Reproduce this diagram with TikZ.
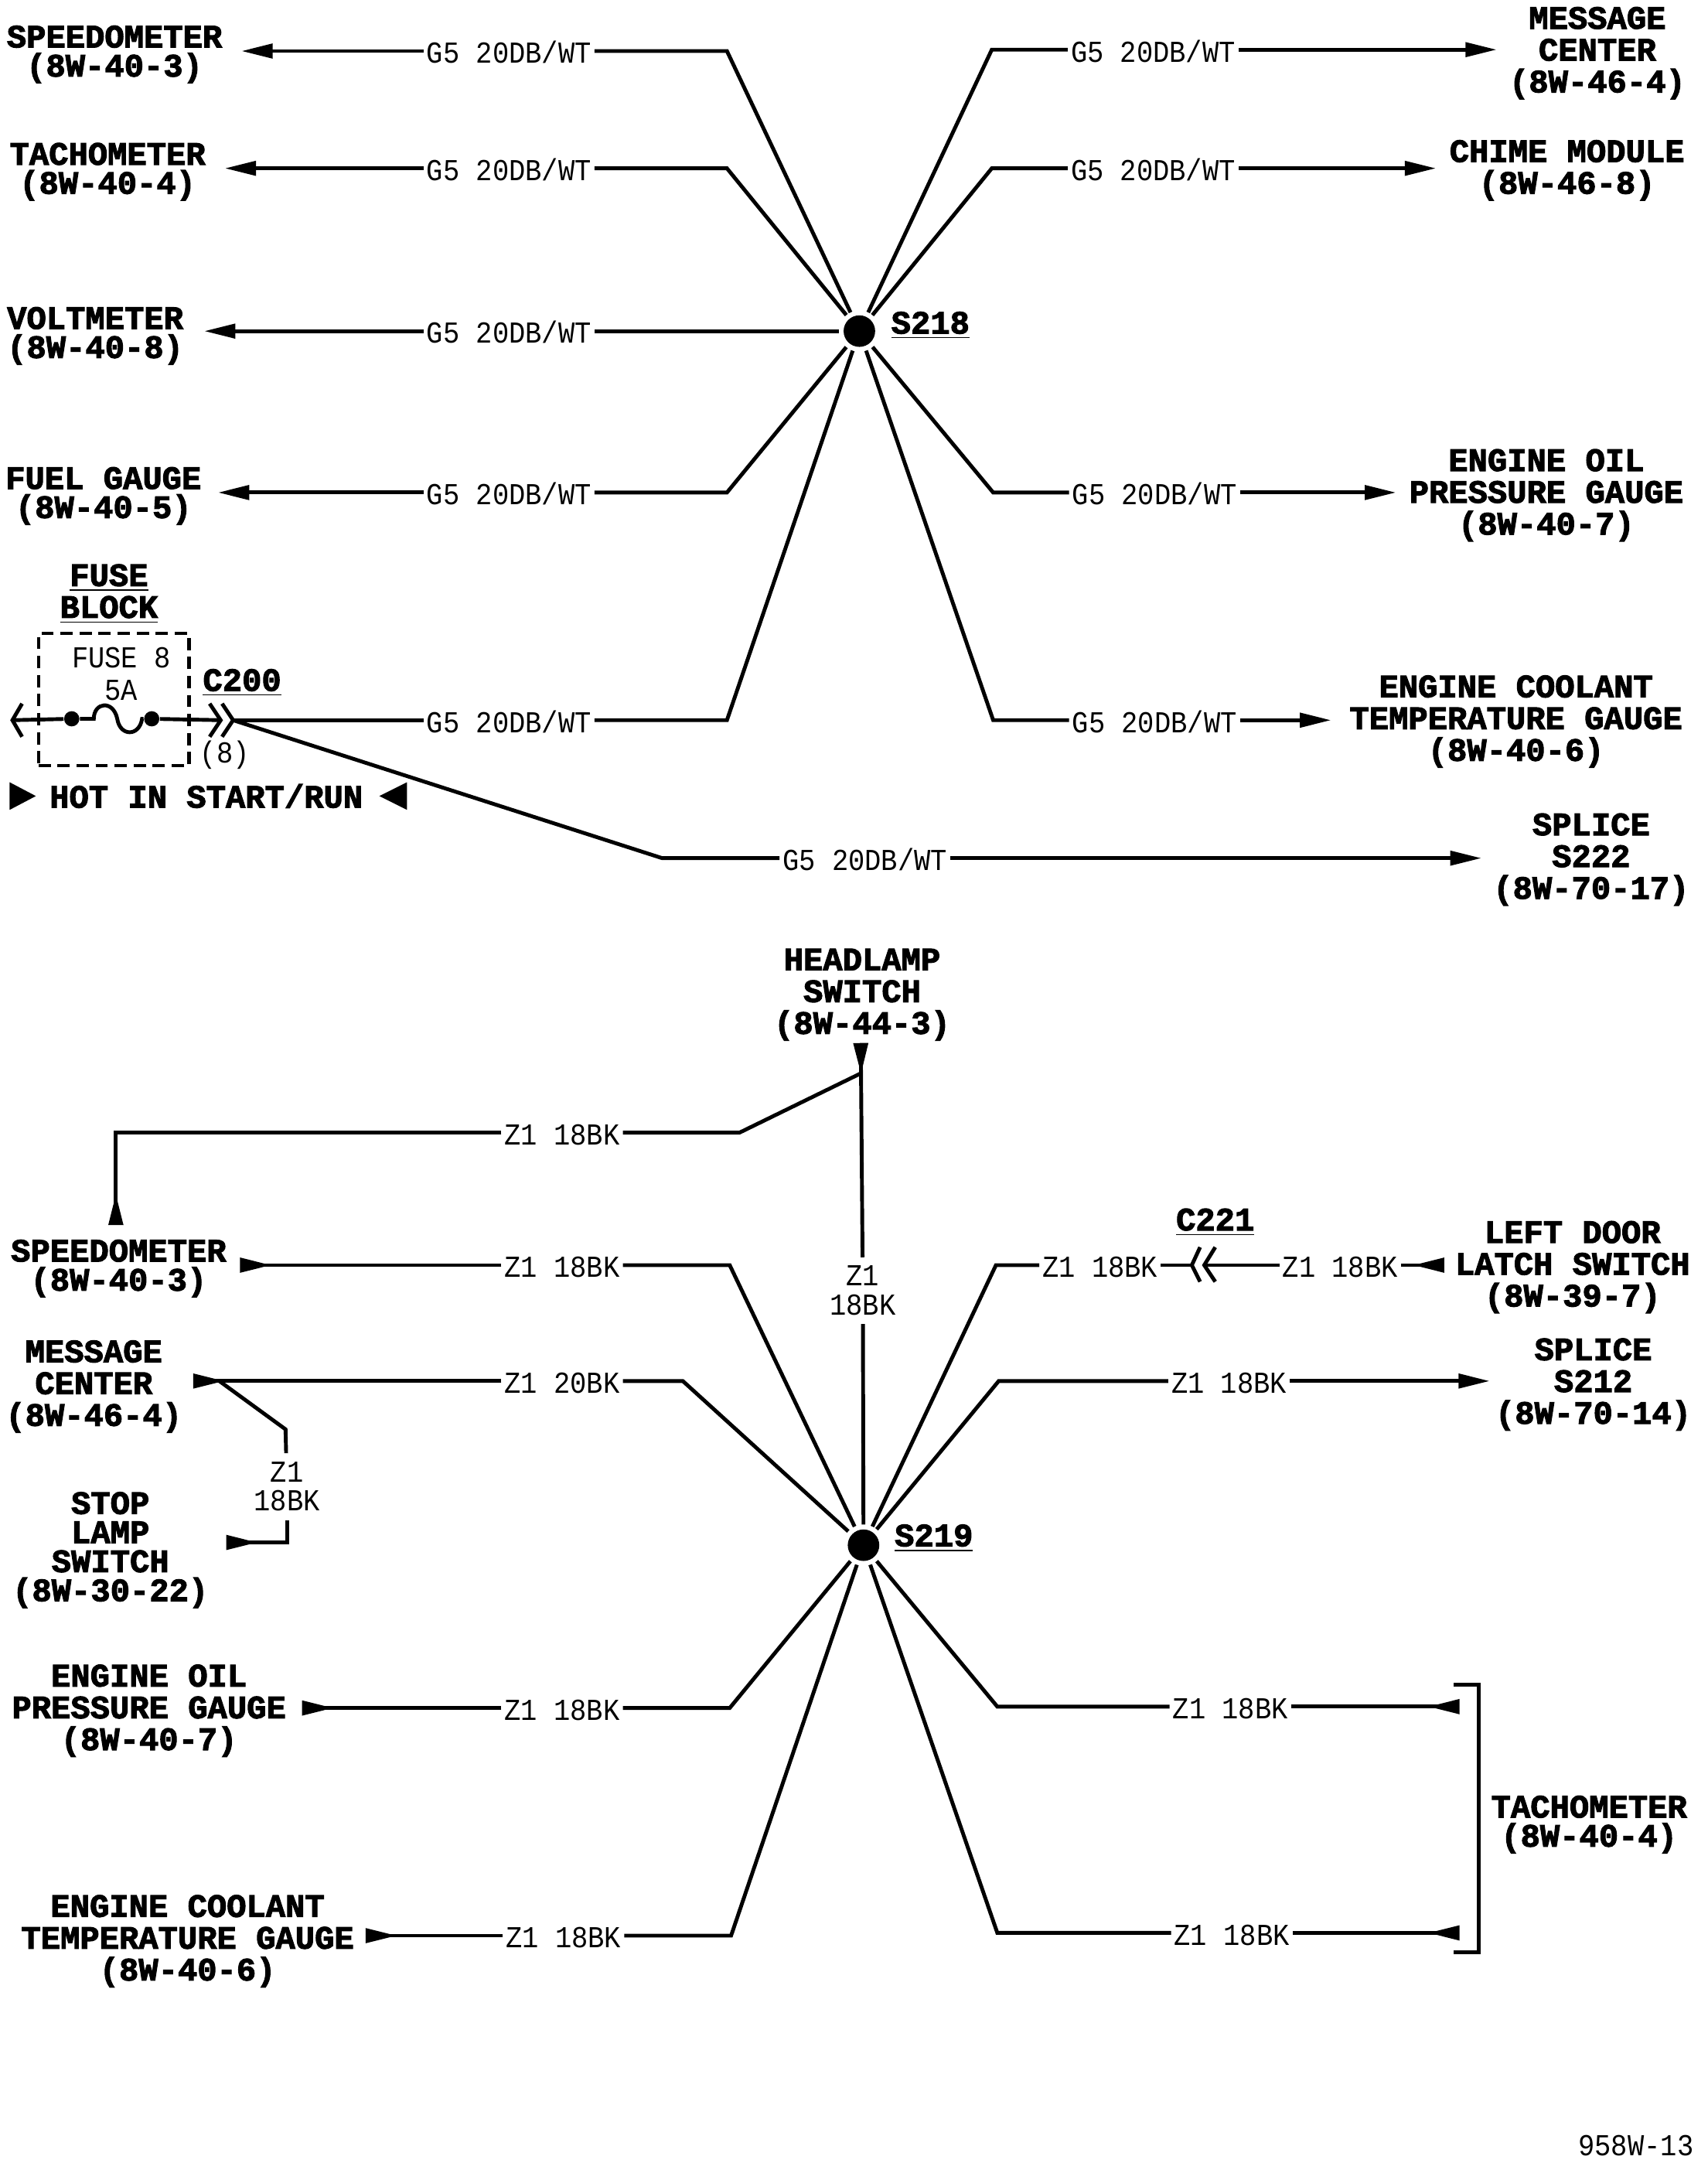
\documentclass[tikz,border=0pt]{standalone}
\usepackage{fontspec}
\usepackage{tikz}
\usetikzlibrary{arrows.meta}
\newfontfamily\wirefont[FakeStretch=0.9]{Liberation Mono}
\newfontfamily\namefont[UprightFont=* Bold,FakeBold=2.5]{Liberation Mono}
\tikzset{
  wire/.style={line width=1.4pt},
  tocomp/.style={wire,-{Triangle[length=11.5pt,width=5.2pt]}},
  fromcomp/.style={wire,-{Triangle[reversed,length=11.5pt,width=5.2pt]}},
  wirelabel/.style={inner xsep=1pt,inner ysep=0pt,text height=9pt,text depth=0pt,font=\wirefont\fontsize{11.2}{11}\selectfont},
  stacklabel/.style={inner xsep=2pt,inner ysep=3pt,align=center,font=\wirefont\fontsize{11.2}{10.7}\selectfont},
  thinlabel/.style={inner sep=0pt,align=center,font=\wirefont\fontsize{11.2}{11.7}\selectfont},
  namelabel/.style={inner sep=0pt,yshift=-1pt,align=center,font=\namefont\fontsize{12}{11.7}\selectfont},
  tightlabel/.style={inner sep=0pt,yshift=-1pt,align=center,font=\namefont\fontsize{12}{10.7}\selectfont},
  splicedot/.style={circle,fill=black,inner sep=0pt,minimum size=11.6pt,outer sep=1.8pt},
  fusedot/.style={circle,fill=black,inner sep=0pt,minimum size=5.6pt}
}
\begin{document}
\begin{tikzpicture}[x=0.01784cm,y=-0.01784cm]
    \useasboundingbox (0,0) rectangle (1237.7,1567.8);

    % upper splice
    \node[splicedot] (s218) at (623,240) {};
    \node[namelabel] (s218name) at (674.5,234) {\underline{S218}};
    \node[tightlabel] (speedoA) at (83,37.5) {SPEEDOMETER\\(8W-40-3)};
    \node[tightlabel] (tachoA) at (78,122.5) {TACHOMETER\\(8W-40-4)};
    \node[tightlabel] (voltA) at (69,241.5) {VOLTMETER\\(8W-40-8)};
    \node[tightlabel] (fuelA) at (75,357.5) {FUEL GAUGE\\(8W-40-5)};
    \node[namelabel] (msgA) at (1158,36.5) {MESSAGE\\CENTER\\(8W-46-4)};
    \node[namelabel] (chimeA) at (1136,121.5) {CHIME MODULE\\(8W-46-8)};
    \node[namelabel] (oilA) at (1121,357) {ENGINE OIL\\PRESSURE GAUGE\\(8W-40-7)};
    \node[namelabel] (coolA) at (1099,521) {ENGINE COOLANT\\TEMPERATURE GAUGE\\(8W-40-6)};
    \node[namelabel] (spliceA) at (1153.5,621) {SPLICE\\S222\\(8W-70-17)};

    \node[wirelabel] (wa) at (369,37) {G5 20DB/WT};
    \node[wirelabel] (wb) at (369,122) {G5 20DB/WT};
    \node[wirelabel] (wc) at (369,240) {G5 20DB/WT};
    \node[wirelabel] (wd) at (369,357) {G5 20DB/WT};
    \node[wirelabel] (we) at (369,522) {G5 20DB/WT};
    \node[wirelabel] (wf) at (836,36) {G5 20DB/WT};
    \node[wirelabel] (wg) at (836,122) {G5 20DB/WT};
    \node[wirelabel] (wh) at (837,357) {G5 20DB/WT};
    \node[wirelabel] (wi) at (837,522) {G5 20DB/WT};
    \node[wirelabel] (wj) at (627,622) {G5 20DB/WT};

    \coordinate (tipa) at (175,37);
    \coordinate (tipb) at (163,122);
    \coordinate (tipc) at (148,240);
    \coordinate (tipd) at (158,357);
    \coordinate (tipf) at (1085,36);
    \coordinate (tipg) at (1041,122);
    \coordinate (tiph) at (1012,357);
    \coordinate (tipi) at (965,522);
    \coordinate (tipj) at (1074,622);
    \coordinate (c200tip) at (169,522);

    \draw[wire] (s218) -- (527,37) -- (wa);
    \draw[tocomp] (wa) -- (tipa);
    \draw[wire] (s218) -- (527,122) -- (wb);
    \draw[tocomp] (wb) -- (tipb);
    \draw[wire] (s218) -- (wc);
    \draw[tocomp] (wc) -- (tipc);
    \draw[wire] (s218) -- (527,357) -- (wd);
    \draw[tocomp] (wd) -- (tipd);
    \draw[wire] (s218) -- (527,522) -- (we);
    \draw[wire] (we) -- (c200tip);
    \draw[wire] (s218) -- (719,36) -- (wf);
    \draw[tocomp] (wf) -- (tipf);
    \draw[wire] (s218) -- (719,122) -- (wg);
    \draw[tocomp] (wg) -- (tipg);
    \draw[wire] (s218) -- (720,357) -- (wh);
    \draw[tocomp] (wh) -- (tiph);
    \draw[wire] (s218) -- (720,522) -- (wi);
    \draw[tocomp] (wi) -- (tipi);
    \draw[wire] (c200tip) -- (480,622) -- (wj);
    \draw[tocomp] (wj) -- (tipj);

    % fuse block
    \node[namelabel] (fuseblockname) at (79,428.5) {\underline{FUSE}\\\underline{BLOCK}};
    \node[draw,line width=1.2pt,dash pattern=on 4.5pt off 2.5pt,minimum width=55.4pt,minimum height=48.8pt,inner sep=0pt] (fusebox) at (82.5,507) {};
    \node[thinlabel] (fusename) at (88,488.5) {FUSE 8\\5A};
    \node[fusedot] (fuseL) at (52,521) {};
    \node[fusedot] (fuseR) at (110,521) {};
    \coordinate (chevL) at (9,522);
    \coordinate (chevM) at (160,522);
    \draw[wire] (16,510) -- (chevL) -- (16,534);
    \draw[wire] (chevL) -- (fuseL);
    \draw[wire] (fuseL) -- (68,521) .. controls (68,509) and (82,507) .. (85,521) .. controls (87,534) and (101,534) .. (103,521) -- (fuseR);
    \draw[wire] (fuseR) -- (chevM);
    \draw[wire] (152,510) -- (chevM) -- (152,534);
    \draw[wire] (161,510) -- (c200tip) -- (161,534);
    \node[namelabel] (c200name) at (175.5,493) {\underline{C200}};
    \node[thinlabel] (c200pin) at (163,547) {(8)};
    \node[namelabel] (hotname) at (149.5,575) {HOT IN START/RUN};
    \fill (7,567) -- (26,577) -- (7,587) -- cycle;
    \fill (295,567) -- (275,577) -- (295,587) -- cycle;

    % lower splice
    \node[splicedot] (s219) at (626,1120) {};
    \node[namelabel] (s219name) at (677,1113) {\underline{S219}};
    \node[namelabel] (headlamp) at (625,719) {HEADLAMP\\SWITCH\\(8W-44-3)};
    \node[tightlabel] (speedoB) at (86,917.5) {SPEEDOMETER\\(8W-40-3)};
    \node[namelabel] (msgB) at (68,1003) {MESSAGE\\CENTER\\(8W-46-4)};
    \node[tightlabel] (stoplamp) at (80,1121.5) {STOP\\LAMP\\SWITCH\\(8W-30-22)};
    \node[namelabel] (oilB) at (108,1238) {ENGINE OIL\\PRESSURE GAUGE\\(8W-40-7)};
    \node[namelabel] (coolB) at (136,1405) {ENGINE COOLANT\\TEMPERATURE GAUGE\\(8W-40-6)};
    \node[namelabel] (doorlatch) at (1140,916.5) {LEFT DOOR\\LATCH SWITCH\\(8W-39-7)};
    \node[namelabel] (spliceB) at (1155,1001.5) {SPLICE\\S212\\(8W-70-14)};
    \node[tightlabel] (tachoB) at (1152,1320.5) {TACHOMETER\\(8W-40-4)};
    \node[namelabel] (c221name) at (881,884) {\underline{C221}};

    \node[wirelabel] (za) at (407.5,821) {Z1 18BK};
    \node[wirelabel] (zb) at (407.5,917) {Z1 18BK};
    \node[wirelabel] (zc) at (407.5,1001) {Z1 20BK};
    \node[wirelabel] (zd) at (407.5,1238) {Z1 18BK};
    \node[wirelabel] (ze) at (408.5,1403) {Z1 18BK};
    \node[wirelabel] (zf) at (797.5,917) {Z1 18BK};
    \node[wirelabel] (zg) at (971.5,917) {Z1 18BK};
    \node[wirelabel] (zh) at (891,1001) {Z1 18BK};
    \node[wirelabel] (zi) at (892,1237) {Z1 18BK};
    \node[wirelabel] (zj) at (893,1401) {Z1 18BK};
    \node[stacklabel] (zk) at (625.5,935.5) {Z1\\18BK};
    \node[stacklabel] (zl) at (208,1077.5) {Z1\\18BK};

    \coordinate (baseA) at (624,756);
    \coordinate (joinA) at (624,778);
    \coordinate (baseB) at (84,888);
    \coordinate (baseC) at (174,917);
    \coordinate (baseD) at (140,1001);
    \coordinate (joinD) at (159,1001);
    \coordinate (baseE) at (164,1118);
    \coordinate (baseF) at (219,1238);
    \coordinate (baseG) at (265,1403);
    \coordinate (baseH) at (1047,917);
    \coordinate (tipK) at (1080,1001);
    \coordinate (baseM) at (1058,1237);
    \coordinate (baseN) at (1058,1401);
    \coordinate (chevA) at (864,917);
    \coordinate (chevB) at (873,917);

    \draw[fromcomp] (zk) -- (baseA);
    \draw[wire] (zk) -- (s219);
    \draw[wire] (joinA) -- (536,821) -- (za);
    \draw[fromcomp] (za) -- (84,821) -- (baseB);
    \draw[fromcomp] (zb) -- (baseC);
    \draw[wire] (s219) -- (529,917) -- (zb);
    \draw[fromcomp] (zc) -- (baseD);
    \draw[wire] (s219) -- (495,1001) -- (zc);
    \draw[wire] (joinD) -- (207,1036) -- (zl);
    \draw[fromcomp] (zl) -- (208,1118) -- (baseE);
    \draw[fromcomp] (zd) -- (baseF);
    \draw[wire] (s219) -- (529,1238) -- (zd);
    \draw[fromcomp] (ze) -- (baseG);
    \draw[wire] (s219) -- (530,1403) -- (ze);
    \draw[wire] (s219) -- (722,917) -- (zf);
    \draw[wire] (zf) -- (chevA);
    \draw[wire] (870,904) -- (chevA) -- (870,929);
    \draw[wire] (881,904) -- (chevB) -- (881,929);
    \draw[wire] (chevB) -- (zg);
    \draw[fromcomp] (zg) -- (baseH);
    \draw[wire] (s219) -- (724,1001) -- (zh);
    \draw[tocomp] (zh) -- (tipK);
    \draw[wire] (s219) -- (723,1237) -- (zi);
    \draw[fromcomp] (zi) -- (baseM);
    \draw[wire] (s219) -- (723,1401) -- (zj);
    \draw[fromcomp] (zj) -- (baseN);
    \draw[wire] (1054,1221) -- (1072,1221) -- (1072,1415) -- (1054,1415);

    \node[thinlabel] (drawingno) at (1186,1555) {958W-13};
  \end{tikzpicture}
\end{document}
